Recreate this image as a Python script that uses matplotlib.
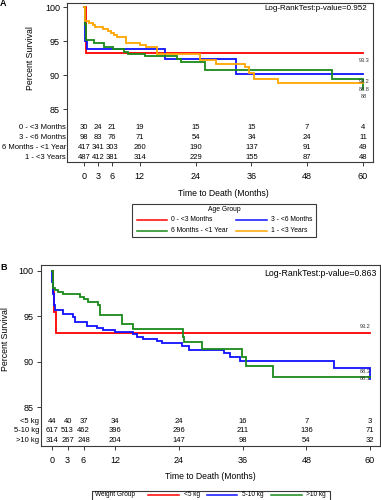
import matplotlib
matplotlib.use("Agg")
import matplotlib.pyplot as plt
import matplotlib.transforms as mtransforms
from matplotlib.lines import Line2D
from matplotlib.patches import Rectangle

plt.rcParams["font.family"] = ["Liberation Sans", "DejaVu Sans"]

W, H = 381, 500

# ---- shared
risk_times = [0, 3, 6, 12, 24, 36, 48, 60]
y_ticks = [85, 90, 95, 100]

# ---- panel A: age groups (time in months, survival % after each step)
a_labels = ["0 - <3 Months", "3 - <6 Months", "6 Months - <1 Year", "1 - <3 Years"]
a_red_t = [0, 0.5, 60]
a_red_s = [100, 93.3, 93.3]
a_blue_t = [0, 0.3, 0.7, 17.4, 32.7, 60]
a_blue_s = [100, 95.1, 93.8, 92.35, 90.25, 90.2]
a_green_t = [0, 0.2, 0.35, 0.5, 2.2, 4.2, 6.3, 8.5, 9.5, 13.1, 20.1, 20.8, 26.0, 53.3, 60]
a_green_s = [100, 97.5, 96.0, 95.25, 94.75, 94.16, 93.8, 93.45, 93.2, 92.8, 92.35, 91.9, 90.85, 89.5, 88.0]
a_orange_t = [0, 0.3, 1.1, 2.0, 2.4, 4.0, 5.2, 5.9, 6.5, 7.0, 9.0, 12.0, 13.3, 15.6, 25.0, 28.4, 34.6, 35.5, 36.6, 41.7, 60]
a_orange_s = [100, 98.0, 97.7, 97.4, 97.1, 96.8, 96.5, 96.2, 95.9, 95.6, 94.8, 94.5, 94.2, 93.1, 92.3, 91.7, 91.2, 90.3, 89.5, 88.8, 88.8]
a_risk = [
    [30, 24, 21, 19, 15, 15, 7, 4],
    [98, 83, 76, 71, 54, 34, 24, 11],
    [417, 341, 303, 260, 190, 137, 91, 49],
    [487, 412, 381, 314, 229, 155, 87, 48],
]
a_end_labels = ["93.3", "90.2", "88.8", "88"]
a_end_values = [93.3, 90.2, 88.8, 88.0]
a_pvalue = "Log-RankTest:p-value=0.952"

# ---- panel B: weight groups
b_labels = ["<5 kg", "5-10 kg", ">10 kg"]
b_red_t = [0, 0.3, 0.5, 0.8, 60]
b_red_s = [100, 97.7, 95.5, 93.2, 93.2]
b_blue_t = [0, 0.15, 0.3, 0.45, 0.6, 2.2, 4.1, 4.4, 6.6, 8.5, 9.7, 11.9, 15.4, 16.0, 17.3, 19.8,
            20.8, 24.5, 25.8, 32.4, 33.6, 35.5, 53.3, 60]
b_blue_s = [100, 98.8, 97.4, 96.2, 95.67, 95.2, 94.86, 94.38, 93.94, 93.72, 93.46, 93.28, 93.0, 92.72,
            92.47, 92.25, 92.0, 91.73, 91.26, 90.96, 90.5, 90.1, 89.24, 88.1]
b_green_t = [0, 0.2, 0.7, 1.25, 2.2, 5.3, 6.0, 6.9, 8.8, 9.1, 13.2, 15.3, 24.8, 25.0, 28.3, 35.8, 36.7, 41.8, 60]
b_green_s = [100, 98.1, 97.9, 97.7, 97.43, 97.13, 96.85, 96.58, 96.2, 95.1, 94.1, 93.54, 92.7, 92.2,
             91.37, 90.52, 89.5, 88.3, 88.3]
b_risk = [
    [44, 40, 37, 34, 24, 16, 7, 3],
    [617, 513, 462, 396, 296, 211, 136, 71],
    [314, 267, 248, 204, 147, 98, 54, 32],
]
b_end_labels = ["93.2", "88.3", "88.1"]
b_end_values = [93.2, 88.3, 88.1]
b_pvalue = "Log-RankTest:p-value=0.863"

RED, BLUE, GREEN, ORANGE = "#ff0000", "#1010ff", "#1a8a1a", "#ffa500"
FRAME = "#3a3a3a"

fig = plt.figure(figsize=(W / 100, H / 100), dpi=100)
# pixel coordinates (origin top-left) for legend boxes and panel letters
pxT = mtransforms.Affine2D().scale(1.0 / W, -1.0 / H).translate(0, 1) + fig.transFigure


def make_axes(left, top, right, bottom, xlim, ylim):
    ax = fig.add_axes([left / W, 1 - bottom / H, (right - left) / W, (bottom - top) / H])
    ax.set_xlim(*xlim)
    ax.set_ylim(*ylim)
    for sp in ax.spines.values():
        sp.set_color(FRAME)
        sp.set_linewidth(0.8)
    ax.set_yticks(y_ticks)
    ax.set_xticks(risk_times)
    ax.tick_params(axis="both", direction="out", length=3, width=0.7, colors=FRAME,
                   labelcolor="black", labelsize=6.5)
    ax.tick_params(axis="y", pad=2)
    ax.tick_params(axis="x", pad=4.5)
    return ax


def draw_panel(ax, curves, risk, row_labels, row_y, label_x, end_labels, end_values,
               end_offsets, end_x, pvalue, pv_pos, pv_size, xlab_y, ylab_x):
    for t, s, c in curves:
        ax.step(t, s, where="post", color=c, lw=1.3, solid_joinstyle="miter")
    tr = ax.get_xaxis_transform()
    for row, lab, yy in zip(risk, row_labels, row_y):
        for tm, n in zip(risk_times, row):
            ax.text(tm, yy, str(n), transform=tr, ha="center", va="center", fontsize=5.5)
        fig.text(label_x, yy, lab, transform=mtransforms.blended_transform_factory(pxT, tr),
                 ha="right", va="center", fontsize=5.5)
    for lab, v, off in zip(end_labels, end_values, end_offsets):
        ax.annotate(lab, (end_x, v), xytext=(0, off), textcoords="offset points",
                    ha="center", va="center", fontsize=4, color="#333333")
    fig.text(pv_pos[0], pv_pos[1], pvalue, transform=pxT, ha="right", va="center", fontsize=pv_size)
    ax.text(30, xlab_y, "Time to Death (Months)", transform=tr, ha="center", va="center", fontsize=6.2)
    ylo, yhi = ax.get_ylim()
    ax.text(ylab_x, (92.5 - ylo) / (yhi - ylo), "Percent Survival", transform=ax.transAxes,
            rotation=90, ha="center", va="center", fontsize=6.3)


# ---------------- panel A
axA = make_axes(67, 3, 373, 162, (-3.66, 62.15), (77.25, 100.63))
draw_panel(axA,
           [(a_red_t, a_red_s, RED), (a_blue_t, a_blue_s, BLUE),
            (a_green_t, a_green_s, GREEN), (a_orange_t, a_orange_s, ORANGE)],
           a_risk, a_labels, [0.214, 0.157, 0.094, 0.027], 66,
           a_end_labels, a_end_values, [-5.3, -5.3, -4.3, -5.3], 60.2,
           a_pvalue, (367, 9), 5.8, -0.195, -0.118)
fig.text(3.5, 4, "A", transform=pxT, ha="center", va="center", fontsize=6.5, fontweight="bold")

# legend A
fig.add_artist(Rectangle((132.3, 204), 183.4, 32.7, transform=pxT, fill=False, edgecolor=FRAME, lw=0.8))
fig.text(224, 209.5, "Age Group", transform=pxT, ha="center", va="center", fontsize=4.9)
for (lx0, lx1, tx, ly), lab, c in zip(
        [(136.7, 166.7, 171, 219.5), (235.7, 266.7, 271, 219.5),
         (136.7, 166.7, 171, 230.5), (235.7, 266.7, 271, 230.5)],
        a_labels, [RED, BLUE, GREEN, ORANGE]):
    fig.add_artist(Line2D([lx0, lx1], [ly, ly], transform=pxT, color=c, lw=1.1))
    fig.text(tx, ly, lab, transform=pxT, ha="left", va="center", fontsize=4.9)

# ---------------- panel B
axB = make_axes(40.7, 265, 380, 446, (-2.07, 61.88), (80.71, 100.63))
draw_panel(axB,
           [(b_red_t, b_red_s, RED), (b_blue_t, b_blue_s, BLUE), (b_green_t, b_green_s, GREEN)],
           b_risk, b_labels, [0.138, 0.083, 0.028], 39.5,
           b_end_labels, b_end_values, [4.0, 4.0, 0.0], 59.0,
           b_pvalue, (376.7, 273.3), 6.3, -0.166, -0.104)
fig.text(4, 267, "B", transform=pxT, ha="center", va="center", fontsize=6.5, fontweight="bold")

# legend B
fig.add_artist(Rectangle((91.7, 490.7), 238.3, 14, transform=pxT, fill=False, edgecolor=FRAME, lw=0.8))
fig.text(95, 494.5, "Weight Group", transform=pxT, ha="left", va="center", fontsize=4.7)
for (lx0, lx1, tx), lab, c in zip([(148.3, 179.3, 184), (206.7, 237.3, 242.3), (270.7, 301.7, 306)],
                                  b_labels, [RED, BLUE, GREEN]):
    fig.add_artist(Line2D([lx0, lx1], [494.5, 494.5], transform=pxT, color=c, lw=1.1))
    fig.text(tx, 494.5, lab, transform=pxT, ha="left", va="center", fontsize=4.7)

fig.savefig("out.png", dpi=100)
